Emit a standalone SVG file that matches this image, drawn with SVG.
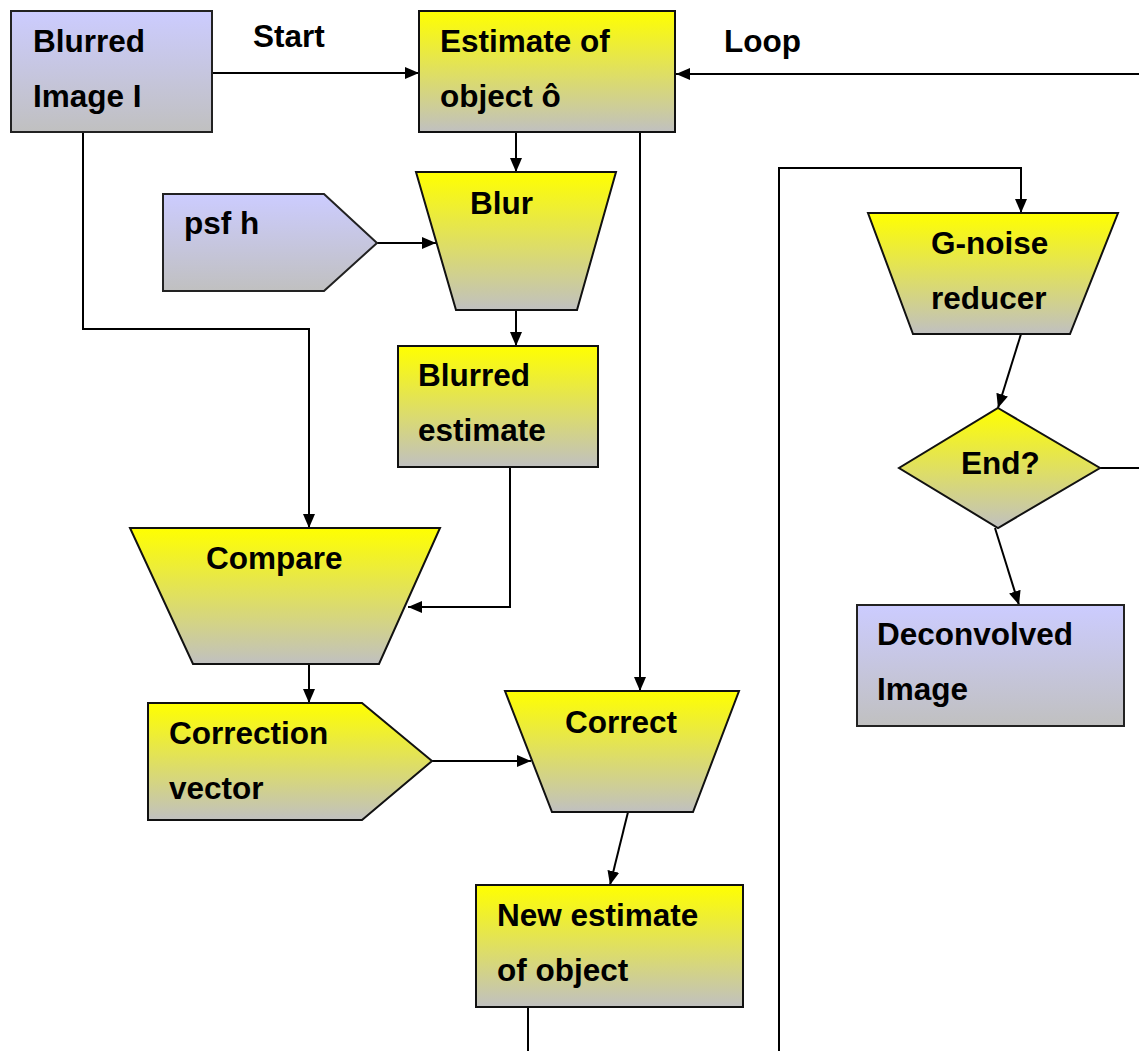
<svg xmlns="http://www.w3.org/2000/svg" width="1139" height="1051" viewBox="0 0 1139 1051">
<defs>
<linearGradient id="gy" x1="0" y1="0" x2="0" y2="1"><stop offset="0" stop-color="#ffff00"/><stop offset="1" stop-color="#c0c0c0"/></linearGradient>
<linearGradient id="gb" x1="0" y1="0" x2="0" y2="1"><stop offset="0" stop-color="#ccccff"/><stop offset="1" stop-color="#c0c0c0"/></linearGradient>
<marker id="ar" viewBox="0 0 14 12" refX="14" refY="6" markerWidth="14" markerHeight="12" markerUnits="userSpaceOnUse" orient="auto"><path d="M0,0 L14,6 L0,12 Z" fill="#000"/></marker>
<style>
.y{fill:url(#gy);stroke:#111;stroke-width:2}
.b{fill:url(#gb);stroke:#222;stroke-width:2}
text{font-family:"Liberation Sans",Arial,sans-serif;font-weight:bold;font-size:31.5px;fill:#000}
.c path{fill:none;stroke:#000;stroke-width:2}
.a{marker-end:url(#ar)}
</style>
</defs>
<g class="c" id="connectors">
<path class="a" d="M212,73 H419"/>
<path class="a" d="M1139,74 H676"/>
<path class="a" d="M516,132 V172"/>
<path class="a" d="M377,243 H436"/>
<path class="a" d="M516,310 V346"/>
<path class="a" d="M83,132 V329 H309 V528"/>
<path class="a" d="M510,467 V607 H408"/>
<path class="a" d="M640,132 V691"/>
<path class="a" d="M309,664 V703"/>
<path class="a" d="M432,761 H531"/>
<path class="a" d="M628,812 L610,885"/>
<path d="M528,1007 V1051"/>
<path class="a" d="M779,1051 V168 H1021 V213"/>
<path class="a" d="M1021,334 L998,408"/>
<path d="M1100,468 H1139"/>
<path class="a" d="M995,528 L1019,605"/>
<text x="253" y="47">Start</text>
<text x="724" y="52">Loop</text>
</g>
<g id="blurred-image"><rect class="b" x="11" y="11" width="201" height="121"/><text x="33" y="52">Blurred</text><text x="33" y="107">Image I</text></g>
<g id="estimate"><rect class="y" x="419" y="11" width="256" height="121"/><text x="440" y="52">Estimate of</text><text x="440" y="107">object ô</text></g>
<g id="blur"><path class="y" d="M416,172 H616 L577,310 H456 Z"/><text x="470" y="214">Blur</text></g>
<g id="psf"><path class="b" d="M163,194 H324 L377,243 L324,291 H163 Z"/><text x="184" y="234">psf h</text></g>
<g id="blurred-estimate"><rect class="y" x="398" y="346" width="200" height="121"/><text x="418" y="386">Blurred</text><text x="418" y="441">estimate</text></g>
<g id="compare"><path class="y" d="M130,528 H440 L379,664 H193 Z"/><text x="206" y="569">Compare</text></g>
<g id="correction"><path class="y" d="M148,703 H362 L432,761 L362,820 H148 Z"/><text x="169" y="744">Correction</text><text x="169" y="799">vector</text></g>
<g id="correct"><path class="y" d="M505,691 H739 L693,812 H552 Z"/><text x="565" y="733">Correct</text></g>
<g id="new-estimate"><rect class="y" x="476" y="885" width="267" height="122"/><text x="497" y="926">New estimate</text><text x="497" y="981">of object</text></g>
<g id="gnoise"><path class="y" d="M868,213 H1118 L1070,334 H913 Z"/><text x="931" y="254">G-noise</text><text x="931" y="309">reducer</text></g>
<g id="end"><path class="y" d="M998,408 L1100,468 L998,528 L899,468 Z"/><text x="961" y="474">End?</text></g>
<g id="deconvolved"><rect class="b" x="857" y="605" width="267" height="121"/><text x="877" y="645">Deconvolved</text><text x="877" y="700">Image</text></g>
</svg>
